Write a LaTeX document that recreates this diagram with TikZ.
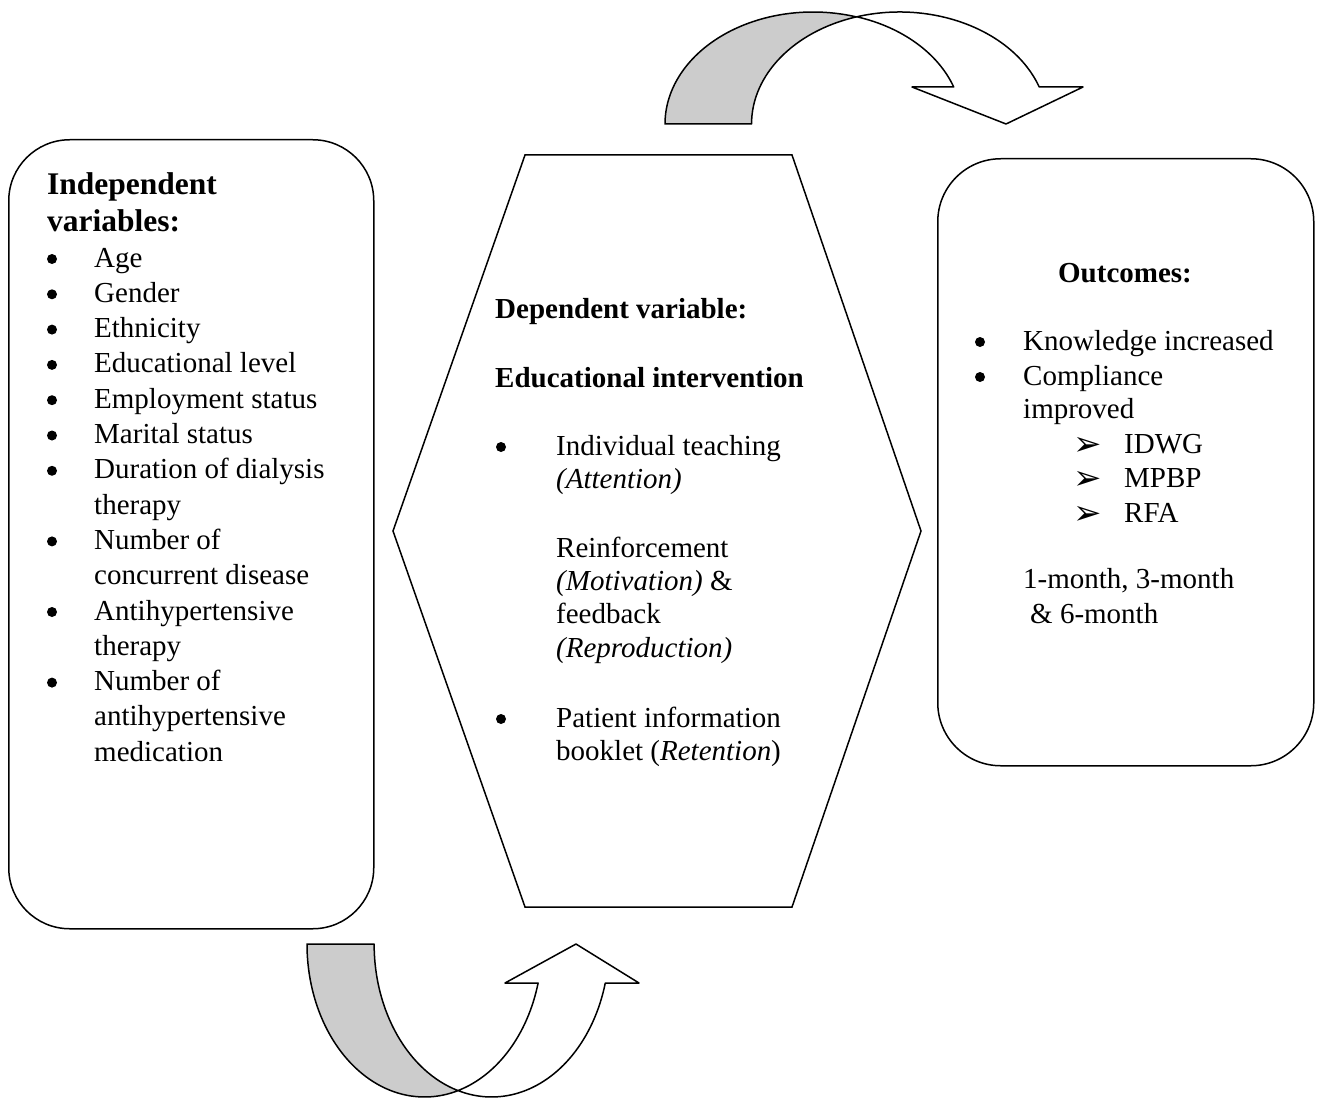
\documentclass[tikz,border=0pt]{standalone}
\usepackage{fontspec}
\setmainfont{Liberation Serif}
\newfontfamily\dejavufont{DejaVu Sans}
\tikzset{
  outline/.style={draw=black, line width=1.5pt},
  band/.style={draw=black, line width=1.5pt, line join=round},
  txt/.style={anchor=base west, inner sep=0pt, font=\fontsize{29}{34}\selectfont},
  boldtxt/.style={txt, font=\fontsize{29}{34}\selectfont\bfseries},
  headtxt/.style={txt, font=\fontsize{31.5}{37}\selectfont\bfseries},
  bulletdot/.style={circle, fill=black, draw=none, inner sep=0pt, minimum size=10},
  arrowmark/.style={anchor=base, inner sep=0pt, font=\fontsize{34}{40}\dejavufont},
}
\begin{document}
\begin{tikzpicture}[x=1pt,y=1pt]
\useasboundingbox (0,0) rectangle (1321,-1099);

% ---------- boxes ----------
\node[outline, rounded corners=61, minimum width=365, minimum height=789, anchor=north west, inner sep=0pt] (indep) at (8,-139) {};
\draw[outline, line join=miter] (525,-155) coordinate (h1) -- (792,-155) coordinate (h2) -- (921,-531) coordinate (h3)
  -- (792,-907) coordinate (h4) -- (525,-907) coordinate (h5) -- (393,-531) coordinate (h6) -- cycle;
\node[outline, rounded corners=63, minimum width=376, minimum height=607, anchor=north west, inner sep=0pt] (outc) at (937,-158) {};

% ---------- top curved arrow ----------
\draw[band, fill=black!20] (665,-124) coordinate (ta0)
  arc[start angle=180, end angle=73, x radius=148, y radius=112]
  arc[start angle=107, end angle=180, x radius=148, y radius=112] -- cycle;
\draw[band, fill=white] (856.3,-16.9) coordinate (ta1)
  arc[start angle=107, end angle=19.3, x radius=148, y radius=112]
  -- (1083,-87) -- (1006,-124) coordinate (tatip) -- (912,-87) -- (953.7,-87)
  arc[start angle=19.3, end angle=73, x radius=148, y radius=112] -- cycle;

% ---------- bottom curved arrow ----------
\draw[band, fill=black!20] (307,-944) coordinate (ba0)
  arc[start angle=180, end angle=286.6, x radius=117.5, y radius=153]
  arc[start angle=253.4, end angle=180, x radius=117.5, y radius=153] -- cycle;
\draw[band, fill=white] (458.1,-1090.6) coordinate (ba1)
  arc[start angle=253.4, end angle=345.2, x radius=117.5, y radius=153]
  -- (639,-983) -- (576,-944) coordinate (batip) -- (505,-983) -- (538.1,-983)
  arc[start angle=345.2, end angle=286.6, x radius=117.5, y radius=153] -- cycle;

% ---------- left box text ----------
\node[headtxt] (ih1) at (47,-195) {Independent};
\node[headtxt] (ih2) at (47,-232) {variables:};
\foreach \k/\t/\b in {0/Age/1, 1/Gender/1, 2/Ethnicity/1, 3/Educational level/1, 4/Employment status/1,
  5/Marital status/1, 6/Duration of dialysis/1, 7/therapy/0, 8/Number of/1, 9/concurrent disease/0,
  10/Antihypertensive/1, 11/therapy/0, 12/Number of/1, 13/antihypertensive/0, 14/medication/0}{
  \node[txt] (iv\k) at (94,{-267-35.3*\k}) {\t};
  \ifnum\b=1 \node[bulletdot] (ib\k) at (52,{-259-35.3*\k}) {}; \fi
}

% ---------- hexagon text ----------
\node[boldtxt] (dv1) at (495,-318) {Dependent variable:};
\node[boldtxt] (dv2) at (495,-387) {Educational intervention};
\node[bulletdot] (db1) at (501,-447) {};
\node[txt] (dt1) at (556,-455) {Individual teaching};
\node[txt] (dt2) at (556,-488) {\itshape (Attention)};
\node[txt] (dt3) at (556,-557) {Reinforcement};
\node[txt] (dt4) at (556,-590) {\itshape (Motivation)\upshape{} \&};
\node[txt] (dt5) at (556,-623) {feedback};
\node[txt] (dt6) at (556,-657) {\itshape (Reproduction)};
\node[bulletdot] (db2) at (501,-719) {};
\node[txt] (dt7) at (556,-727) {Patient information};
\node[txt] (dt8) at (556,-760) {booklet (\textit{Retention})};

% ---------- right box text ----------
\node[boldtxt, anchor=base] (oh) at (1125,-282) {Outcomes:};
\node[bulletdot] (ob1) at (980,-342) {};
\node[txt] (ot1) at (1023,-350) {Knowledge increased};
\node[bulletdot] (ob2) at (980,-377) {};
\node[txt] (ot2) at (1023,-385) {Compliance};
\node[txt] (ot3) at (1023,-418) {improved};
\node[arrowmark] (oa1) at (1088,-455) {➢};
\node[txt] (ot4) at (1124,-453) {IDWG};
\node[arrowmark] (oa2) at (1088,-489) {➢};
\node[txt] (ot5) at (1124,-487) {MPBP};
\node[arrowmark] (oa3) at (1088,-524) {➢};
\node[txt] (ot6) at (1124,-522) {RFA};
\node[txt] (ot7) at (1023,-588) {1-month, 3-month};
\node[txt] (ot8) at (1030,-623) {\& 6-month};
\end{tikzpicture}
\end{document}
